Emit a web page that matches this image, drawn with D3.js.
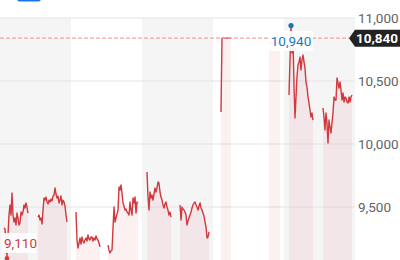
<!DOCTYPE html>
<html><head><meta charset="utf-8">
<script src="https://cdn.jsdelivr.net/npm/d3@7"></script>
<style>html,body{margin:0;padding:0;background:#fff;overflow:hidden}svg{display:block}</style>
</head><body><svg id="c" width="400" height="260"></svg>
<script>
// ---- data ----
const dayCount = 5;                 // days shown (hours 0..120)
const tickValues = [9500, 10000, 10500, 11000];
const tickLabels = ["9,500", "10,000", "10,500", "11,000"];
const lastPrice = 10840, lastLabel = "10,840";
const highPrice = 10940, highLabel = "10,940", highHour = 98.37;
const lowPrice = 9110, lowLabel = "9,110", lowHour = 2.37;
// session [start hour, end hour]
const sessions = [[1.35,9.46],[12.85,22.65],[25.69,33.80],[36.51,46.65],[49.69,57.80],
  [60.85,70.65],[74.70,78.08],[90.93,94.65],[97.69,105.80],[109.18,118.99]];
const s1 = [9333,9325,9238,9110,9278,9436,9516,9436,9611,9436,9381,9413,9357,9452,9413,9357,9373,9460,9436,9460,9516,9492,9532,9500,9452];
const s2 = [9420,9436,9397,9413,9365,9476,9571,9555,9579,9540,9524,9555,9540,9563,9548,9587,9595,9651,9603,9571,9587,9532,9555,9587,9516,9555,9540,9508,9436,9381];
const s3 = [9460,9238,9175,9214,9254,9206,9262,9230,9214,9238,9254,9230,9278,9246,9238,9262,9262,9230,9254,9238,9270,9246,9238,9214,9183];
const s4 = [9198,9159,9135,9151,9159,9333,9500,9381,9413,9444,9476,9659,9635,9675,9611,9532,9508,9476,9484,9460,9452,9436,9540,9476,9436,9571,9532,9579,9452,9540,9532];
const s5 = [9778,9579,9476,9619,9571,9595,9555,9603,9651,9619,9651,9698,9690,9619,9579,9555,9516,9492,9524,9540,9500,9476,9436,9460,9420];
const s6 = [9516,9397,9500,9484,9476,9460,9436,9357,9389,9413,9436,9460,9492,9516,9532,9540,9516,9500,9476,9508,9532,9492,9476,9452,9428,9381,9341,9254,9262,9302];
const s7 = [10254,10840,10840,10840,10840,10840,10840,10840,10840,10840,10840];
const s8 = [10800,10800,10800,10800,10800,10800,10800,10800,10800,10800,10800,10800];
const s9 = [10389,10667,10940,10722,10825,10468,10206,10373,10532,10627,10651,10690,10587,10667,10706,10651,10603,10492,10452,10373,10325,10270,10214,10246,10190];
const s10 = [10286,10214,10111,10246,10167,10008,10190,10135,10087,10167,10246,10373,10349,10349,10524,10484,10444,10492,10429,10349,10405,10333,10373,10365,10333,10325,10373,10333,10373,10389];
const seriesValues = [s1,s2,s3,s4,s5,s6,s7,s8,s9,s10];

// ---- drawing ----
const svg = d3.select("#c");
const W = 400, H = 260, plotRight = 355, plotTop = 18;
const x = d3.scaleLinear().domain([0, dayCount*24]).range([0, plotRight]);
const y = d3.scaleLinear().domain([9500, 11000]).range([207, 18]);

// top toolbar fragment
svg.append("rect").attr("x",17).attr("y",-20).attr("width",24).attr("height",21.5).attr("rx",3).attr("fill","#1a73e8");

// day bands
svg.append("g").selectAll("rect").data(d3.range(dayCount).filter(d=>d%2===0)).join("rect")
  .attr("x", d=>x(d*24)).attr("width", d=>x((d+1)*24)-x(d*24))
  .attr("y", plotTop).attr("height", H-plotTop).attr("fill","#f5f5f6");

// gridlines
svg.append("g").selectAll("line").data(tickValues).join("line")
  .attr("x1",0).attr("x2",plotRight).attr("y1",d=>y(d)).attr("y2",d=>y(d))
  .attr("stroke","#e4e4e8").attr("stroke-width",1.2);

// axis labels
const axis = d3.axisRight(y).tickValues(tickValues).tickFormat((d,i)=>tickLabels[i]).tickSize(0).tickPadding(0);
const ag = svg.append("g").attr("transform",`translate(358,0)`).call(axis);
ag.select(".domain").remove();
ag.selectAll("text").attr("font-family","Roboto, sans-serif").attr("font-size",13.5).attr("fill","#5f6368").attr("dy","0.36em");

// series
const pts = seriesValues.map((vals,i)=>{
  const [a,b] = sessions[i];
  const step = (b-a)/(vals.length-1);
  return vals.map((v,j)=>({t:a+j*step, v}));
});
const area = d3.area().x(d=>x(d.t)).y0(H).y1(d=>y(d.v));
const line = d3.line().x(d=>x(d.t)).y(d=>y(d.v));
svg.append("g").selectAll("path").data(pts).join("path")
  .attr("d", area).attr("fill","rgba(214,60,66,0.075)");
svg.append("g").selectAll("path").data(pts).join("path")
  .attr("d", line).attr("fill","none").attr("stroke","#d0393f").attr("stroke-width",1.4)
  .attr("stroke-linejoin","round");

// last price dashed line
svg.append("line").attr("x1",0).attr("x2",349).attr("y1",y(lastPrice)).attr("y2",y(lastPrice))
  .attr("stroke","#f5a3a3").attr("stroke-width",1.3).attr("stroke-dasharray","4,2");
const ly = y(lastPrice);
svg.append("path").attr("d",`M349,${ly} L355,${ly-8.5} H402 V${ly+8.5} H355 Z`).attr("fill","#222");
svg.append("text").attr("x",356).attr("y",ly).attr("dy","0.36em").text(lastLabel)
  .attr("font-family","Roboto, sans-serif").attr("font-size",13.5).attr("font-weight",700).attr("fill","#fff");

// high marker
const hx = x(highHour), hy = y(highPrice);
svg.append("rect").attr("x",hx-23).attr("y",31).attr("width",45).attr("height",20).attr("fill","#fff").attr("opacity",0.92);
svg.append("circle").attr("cx",hx).attr("cy",hy).attr("r",2.6).attr("fill","#1a73b8");
svg.append("text").attr("x",hx).attr("y",41).attr("dy","0.36em").attr("text-anchor","middle").text(highLabel)
  .attr("font-family","Roboto, sans-serif").attr("font-size",13.5).attr("fill","#1a78c2");

// low marker
const lx = x(lowHour), lyy = y(lowPrice);
svg.append("rect").attr("x",2).attr("y",233).attr("width",34).attr("height",20).attr("fill","#fff").attr("opacity",0.92);
svg.append("circle").attr("cx",lx).attr("cy",lyy+2).attr("r",2.2).attr("fill","#d0393f");
svg.append("text").attr("x",4).attr("y",243).attr("dy","0.36em").text(lowLabel)
  .attr("font-family","Roboto, sans-serif").attr("font-size",13.5).attr("fill","#d0393f");
</script></body></html>
